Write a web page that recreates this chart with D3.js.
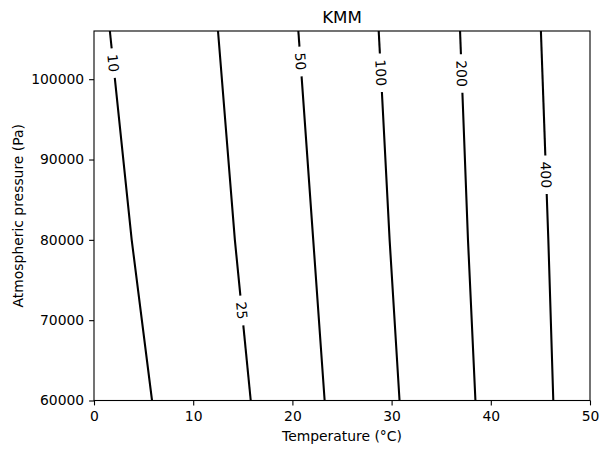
<!DOCTYPE html>
<html lang="en">
<head>
<meta charset="utf-8">
<title>KMM</title>
<script src="https://d3js.org/d3.v7.min.js"></script>
<style>
  body { margin: 0; background: #fff; }
  svg { font-family: "DejaVu Sans", sans-serif; }
</style>
</head>
<body>
<script>
// contour levels and where each line crosses three pressures
var levels = [10, 25, 50, 100, 200, 400];
var pressures = [106000, 80000, 60000];
var tempAt106k = [1.6, 12.5, 20.6, 28.7, 36.9, 45.05];
var tempAt80k  = [3.8, 14.2, 22.1, 29.8, 37.7, 45.8];
var tempAt60k  = [5.85, 15.8, 23.25, 30.8, 38.45, 46.3];
// pressure at which the inline label sits
var labelP = [102000, 71200, 102200, 100800, 100700, 88100];

var xTicks = [0, 10, 20, 30, 40, 50];
var yTicks = [60000, 70000, 80000, 90000, 100000];

var W = 608, H = 454;
var margin = {top: 31, left: 94, right: 18, bottom: 53.5};
var width = W - margin.left - margin.right,
    height = H - margin.top - margin.bottom;

var svg = d3.select("body").append("svg")
    .attr("width", W).attr("height", H);
var g = svg.append("g").attr("transform", "translate(" + margin.left + "," + margin.top + ")");

var x = d3.scaleLinear().domain([0, 50]).range([0, width]);
var y = d3.scaleLinear().domain([60000, 106000]).range([height, 0]);

var fs = 13.9;

// contour lines
var line = d3.line().x(function(d) { return x(d[0]); }).y(function(d) { return y(d[1]); });

function tempAt(pts, p) {
  for (var i = 0; i < pts.length - 1; i++) {
    var a = pts[i], b = pts[i + 1];
    if (p <= a[1] && p >= b[1]) {
      var t = (p - a[1]) / (b[1] - a[1]);
      return a[0] + t * (b[0] - a[0]);
    }
  }
  return pts[pts.length - 1][0];
}

var cl = g.append("g");
levels.forEach(function(lv, i) {
  var pts = [[tempAt106k[i], pressures[0]], [tempAt80k[i], pressures[1]], [tempAt60k[i], pressures[2]]];
  var lp = labelP[i];
  var lx = x(tempAt(pts, lp)), ly = y(lp);

  var txt = cl.append("text")
      .attr("font-size", fs)
      .attr("text-anchor", "middle")
      .attr("dominant-baseline", "central")
      .attr("fill", "#000")
      .text(lv);
  var tw = txt.node().getComputedTextLength();
  var half = tw / 2 + 6;

  // gap in pressure units
  var pUp = y.invert(ly - half), pDn = y.invert(ly + half);
  var upper = pts.filter(function(d) { return d[1] > pUp; });
  upper.push([tempAt(pts, pUp), pUp]);
  var lower = [[tempAt(pts, pDn), pDn]].concat(pts.filter(function(d) { return d[1] < pDn; }));

  // angle of the line at the label
  var a = [x(tempAt(pts, pUp)), y(pUp)], b = [x(tempAt(pts, pDn)), y(pDn)];
  var ang = Math.atan2(b[1] - a[1], b[0] - a[0]) * 180 / Math.PI;
  txt.attr("transform", "translate(" + lx + "," + ly + ") rotate(" + ang + ")");

  [upper, lower].forEach(function(seg) {
    cl.append("path").datum(seg)
      .attr("d", line)
      .attr("fill", "none")
      .attr("stroke", "#000")
      .attr("stroke-width", 2.08);
  });
});

// axes
var xAxis = g.append("g")
    .attr("transform", "translate(0," + height + ")")
    .call(d3.axisBottom(x).tickValues(xTicks).tickSize(4.9).tickPadding(4.9));
var yAxis = g.append("g")
    .call(d3.axisLeft(y).tickValues(yTicks).tickFormat(d3.format("d")).tickSize(4.9).tickPadding(4.9));
[xAxis, yAxis].forEach(function(ax) {
  ax.select(".domain").remove();
  ax.selectAll(".tick line").attr("stroke", "#000").attr("stroke-width", 1.1);
  ax.selectAll(".tick text").attr("font-size", fs).attr("font-family", "DejaVu Sans").attr("fill", "#000");
});
xAxis.selectAll(".tick text").attr("dy", null).attr("y", 4.9 + 4.9 + 10.6);

g.append("rect")
    .attr("width", width).attr("height", height)
    .attr("fill", "none").attr("stroke", "#000").attr("stroke-width", 1.1);

// labels
svg.append("text")
    .attr("x", margin.left + width / 2).attr("y", 22.7)
    .attr("text-anchor", "middle").attr("font-size", 16.7)
    .text("KMM");

svg.append("text")
    .attr("x", margin.left + width / 2).attr("y", 441)
    .attr("text-anchor", "middle").attr("font-size", fs)
    .text("Temperature (°C)");

svg.append("text")
    .attr("transform", "translate(22.5," + (margin.top + height / 2) + ") rotate(-90)")
    .attr("text-anchor", "middle").attr("font-size", fs)
    .text("Atmospheric pressure (Pa)");
</script>
</body>
</html>
